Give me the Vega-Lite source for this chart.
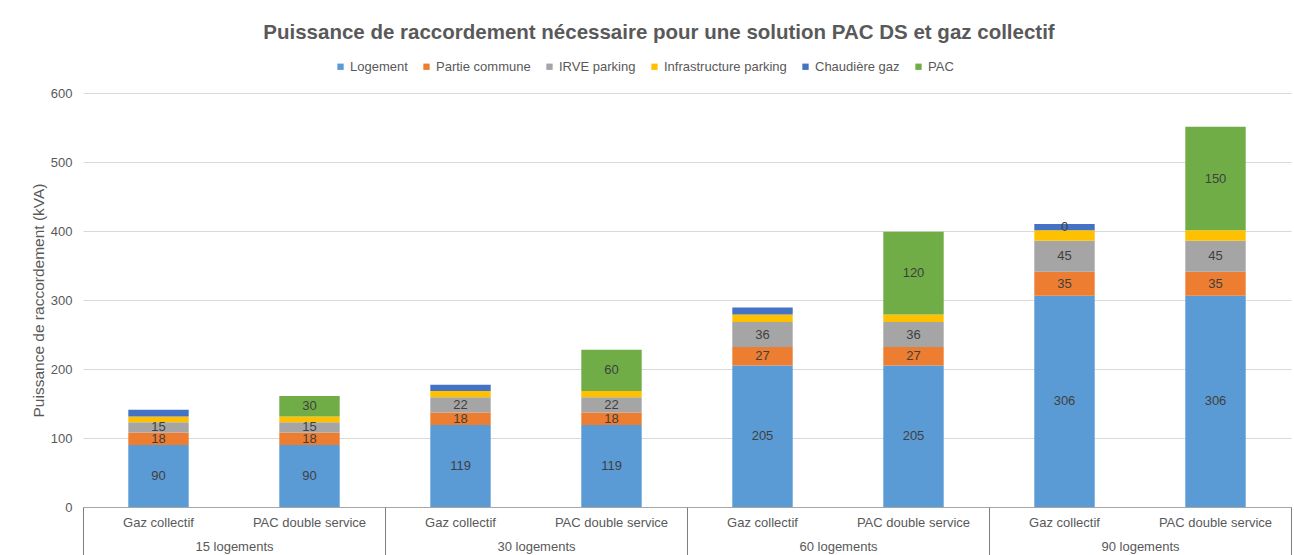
{
  "$schema": "https://vega.github.io/schema/vega-lite/v6.json",
  "width": 1208,
  "height": 414,
  "autosize": {"type": "none"},
  "padding": {"left": 83, "top": 93, "right": 3, "bottom": 48},
  "background": "white",
  "config": {
    "font": "Liberation Sans",
    "view": {"stroke": null}
  },
  "title": {
    "text": "Puissance de raccordement nécessaire pour une solution PAC DS et gaz collectif",
    "fontSize": 20.5,
    "fontWeight": "bold",
    "color": "#595959",
    "font": "Liberation Sans",
    "anchor": "middle",
    "dx": -28,
    "offset": 17
  },
  "data": {
    "values": [
      {"group": "15 logements", "bar": "15 logements|Gaz collectif", "series": "Logement", "k": 1, "value": 90, "lbl": "90"},
      {"group": "15 logements", "bar": "15 logements|Gaz collectif", "series": "Partie commune", "k": 2, "value": 18, "lbl": "18"},
      {"group": "15 logements", "bar": "15 logements|Gaz collectif", "series": "IRVE parking", "k": 3, "value": 15, "lbl": "15"},
      {"group": "15 logements", "bar": "15 logements|Gaz collectif", "series": "Infrastructure parking", "k": 4, "value": 8, "lbl": ""},
      {"group": "15 logements", "bar": "15 logements|Gaz collectif", "series": "Chaudière gaz", "k": 5, "value": 10, "lbl": ""},
      {"group": "15 logements", "bar": "15 logements|PAC double service", "series": "Logement", "k": 1, "value": 90, "lbl": "90"},
      {"group": "15 logements", "bar": "15 logements|PAC double service", "series": "Partie commune", "k": 2, "value": 18, "lbl": "18"},
      {"group": "15 logements", "bar": "15 logements|PAC double service", "series": "IRVE parking", "k": 3, "value": 15, "lbl": "15"},
      {"group": "15 logements", "bar": "15 logements|PAC double service", "series": "Infrastructure parking", "k": 4, "value": 8, "lbl": ""},
      {"group": "15 logements", "bar": "15 logements|PAC double service", "series": "PAC", "k": 6, "value": 30, "lbl": "30"},
      {"group": "30 logements", "bar": "30 logements|Gaz collectif", "series": "Logement", "k": 1, "value": 119, "lbl": "119"},
      {"group": "30 logements", "bar": "30 logements|Gaz collectif", "series": "Partie commune", "k": 2, "value": 18, "lbl": "18"},
      {"group": "30 logements", "bar": "30 logements|Gaz collectif", "series": "IRVE parking", "k": 3, "value": 22, "lbl": "22"},
      {"group": "30 logements", "bar": "30 logements|Gaz collectif", "series": "Infrastructure parking", "k": 4, "value": 9, "lbl": ""},
      {"group": "30 logements", "bar": "30 logements|Gaz collectif", "series": "Chaudière gaz", "k": 5, "value": 9, "lbl": ""},
      {"group": "30 logements", "bar": "30 logements|PAC double service", "series": "Logement", "k": 1, "value": 119, "lbl": "119"},
      {"group": "30 logements", "bar": "30 logements|PAC double service", "series": "Partie commune", "k": 2, "value": 18, "lbl": "18"},
      {"group": "30 logements", "bar": "30 logements|PAC double service", "series": "IRVE parking", "k": 3, "value": 22, "lbl": "22"},
      {"group": "30 logements", "bar": "30 logements|PAC double service", "series": "Infrastructure parking", "k": 4, "value": 9, "lbl": ""},
      {"group": "30 logements", "bar": "30 logements|PAC double service", "series": "PAC", "k": 6, "value": 60, "lbl": "60"},
      {"group": "60 logements", "bar": "60 logements|Gaz collectif", "series": "Logement", "k": 1, "value": 205, "lbl": "205"},
      {"group": "60 logements", "bar": "60 logements|Gaz collectif", "series": "Partie commune", "k": 2, "value": 27, "lbl": "27"},
      {"group": "60 logements", "bar": "60 logements|Gaz collectif", "series": "IRVE parking", "k": 3, "value": 36, "lbl": "36"},
      {"group": "60 logements", "bar": "60 logements|Gaz collectif", "series": "Infrastructure parking", "k": 4, "value": 11, "lbl": ""},
      {"group": "60 logements", "bar": "60 logements|Gaz collectif", "series": "Chaudière gaz", "k": 5, "value": 10, "lbl": ""},
      {"group": "60 logements", "bar": "60 logements|PAC double service", "series": "Logement", "k": 1, "value": 205, "lbl": "205"},
      {"group": "60 logements", "bar": "60 logements|PAC double service", "series": "Partie commune", "k": 2, "value": 27, "lbl": "27"},
      {"group": "60 logements", "bar": "60 logements|PAC double service", "series": "IRVE parking", "k": 3, "value": 36, "lbl": "36"},
      {"group": "60 logements", "bar": "60 logements|PAC double service", "series": "Infrastructure parking", "k": 4, "value": 11, "lbl": ""},
      {"group": "60 logements", "bar": "60 logements|PAC double service", "series": "PAC", "k": 6, "value": 120, "lbl": "120"},
      {"group": "90 logements", "bar": "90 logements|Gaz collectif", "series": "Logement", "k": 1, "value": 306, "lbl": "306"},
      {"group": "90 logements", "bar": "90 logements|Gaz collectif", "series": "Partie commune", "k": 2, "value": 35, "lbl": "35"},
      {"group": "90 logements", "bar": "90 logements|Gaz collectif", "series": "IRVE parking", "k": 3, "value": 45, "lbl": "45"},
      {"group": "90 logements", "bar": "90 logements|Gaz collectif", "series": "Infrastructure parking", "k": 4, "value": 15, "lbl": ""},
      {"group": "90 logements", "bar": "90 logements|Gaz collectif", "series": "Chaudière gaz", "k": 5, "value": 9, "lbl": "0"},
      {"group": "90 logements", "bar": "90 logements|PAC double service", "series": "Logement", "k": 1, "value": 306, "lbl": "306"},
      {"group": "90 logements", "bar": "90 logements|PAC double service", "series": "Partie commune", "k": 2, "value": 35, "lbl": "35"},
      {"group": "90 logements", "bar": "90 logements|PAC double service", "series": "IRVE parking", "k": 3, "value": 45, "lbl": "45"},
      {"group": "90 logements", "bar": "90 logements|PAC double service", "series": "Infrastructure parking", "k": 4, "value": 15, "lbl": ""},
      {"group": "90 logements", "bar": "90 logements|PAC double service", "series": "PAC", "k": 6, "value": 150, "lbl": "150"}
    ]
  },
  "layer": [
    {
      "encoding": {
        "x": {
          "field": "bar",
          "type": "nominal",
          "sort": null,
          "scale": {"paddingInner": 0.6, "paddingOuter": 0.3},
          "axis": {
            "title": null,
            "orient": "bottom",
            "labelExpr": "split(datum.label, '|')[1]",
            "labelAngle": 0,
            "ticks": false,
            "domain": true,
            "domainColor": "#A6A6A6",
            "domainWidth": 1,
            "labelPadding": 9,
            "labelFontSize": 13,
            "labelColor": "#595959",
            "labelFont": "Liberation Sans"
          }
        },
        "order": {"field": "k", "type": "quantitative"}
      },
      "layer": [
        {
          "mark": {"type": "bar"},
          "encoding": {
            "y": {
              "field": "value",
              "type": "quantitative",
              "stack": "zero",
              "scale": {"domain": [0, 600], "nice": false},
              "axis": {
                "values": [0, 100, 200, 300, 400, 500, 600],
                "title": "Puissance de raccordement (kVA)",
                "titleFontSize": 15.5,
                "titleFontWeight": "normal",
                "titleColor": "#595959",
                "titleFont": "Liberation Sans",
                "titlePadding": 4,
                "grid": true,
                "gridColor": "#D9D9D9",
                "domain": false,
                "ticks": false,
                "labelPadding": 11,
                "labelFontSize": 13,
                "labelColor": "#595959",
                "labelFont": "Liberation Sans"
              }
            },
            "color": {
              "field": "series",
              "type": "nominal",
              "sort": ["Logement", "Partie commune", "IRVE parking", "Infrastructure parking", "Chaudière gaz", "PAC"],
              "scale": {
                "domain": ["Logement", "Partie commune", "IRVE parking", "Infrastructure parking", "Chaudière gaz", "PAC"],
                "range": ["#5B9BD5", "#ED7D31", "#A5A5A5", "#FFC000", "#4472C4", "#70AD47"]
              },
              "legend": {
                "orient": "none",
                "legendX": 251,
                "legendY": -33,
                "direction": "horizontal",
                "title": null,
                "symbolType": "square",
                "symbolSize": 40,
                "symbolStrokeWidth": 0,
                "labelFontSize": 13,
                "labelFont": "Liberation Sans",
                "labelColor": "#595959",
                "labelOffset": 3,
                "columnPadding": 12,
                "padding": 0
              }
            }
          }
        },
        {
          "mark": {"type": "text", "fontSize": 13, "color": "#404040", "font": "Liberation Sans"},
          "encoding": {
            "y": {
              "field": "value",
              "type": "quantitative",
              "stack": "zero",
              "bandPosition": 0.5
            },
            "detail": {"field": "series", "type": "nominal"},
            "text": {"field": "lbl", "type": "nominal"}
          }
        }
      ]
    },
    {
      "mark": {"type": "point", "opacity": 0, "size": 0},
      "encoding": {
        "x": {
          "field": "group",
          "type": "nominal",
          "sort": null,
          "scale": {"paddingInner": 0, "paddingOuter": 0},
          "axis": {
            "title": null,
            "orient": "bottom",
            "labelAngle": 0,
            "domain": false,
            "ticks": true,
            "tickBand": "extent",
            "tickSize": 48,
            "tickColor": "#7F7F7F",
            "labelPadding": -15,
            "labelFontSize": 13,
            "labelColor": "#595959",
            "labelFont": "Liberation Sans"
          }
        },
        "y": {"datum": 0, "type": "quantitative"}
      }
    }
  ],
  "resolve": {"scale": {"x": "independent"}, "axis": {"x": "independent"}}
}
